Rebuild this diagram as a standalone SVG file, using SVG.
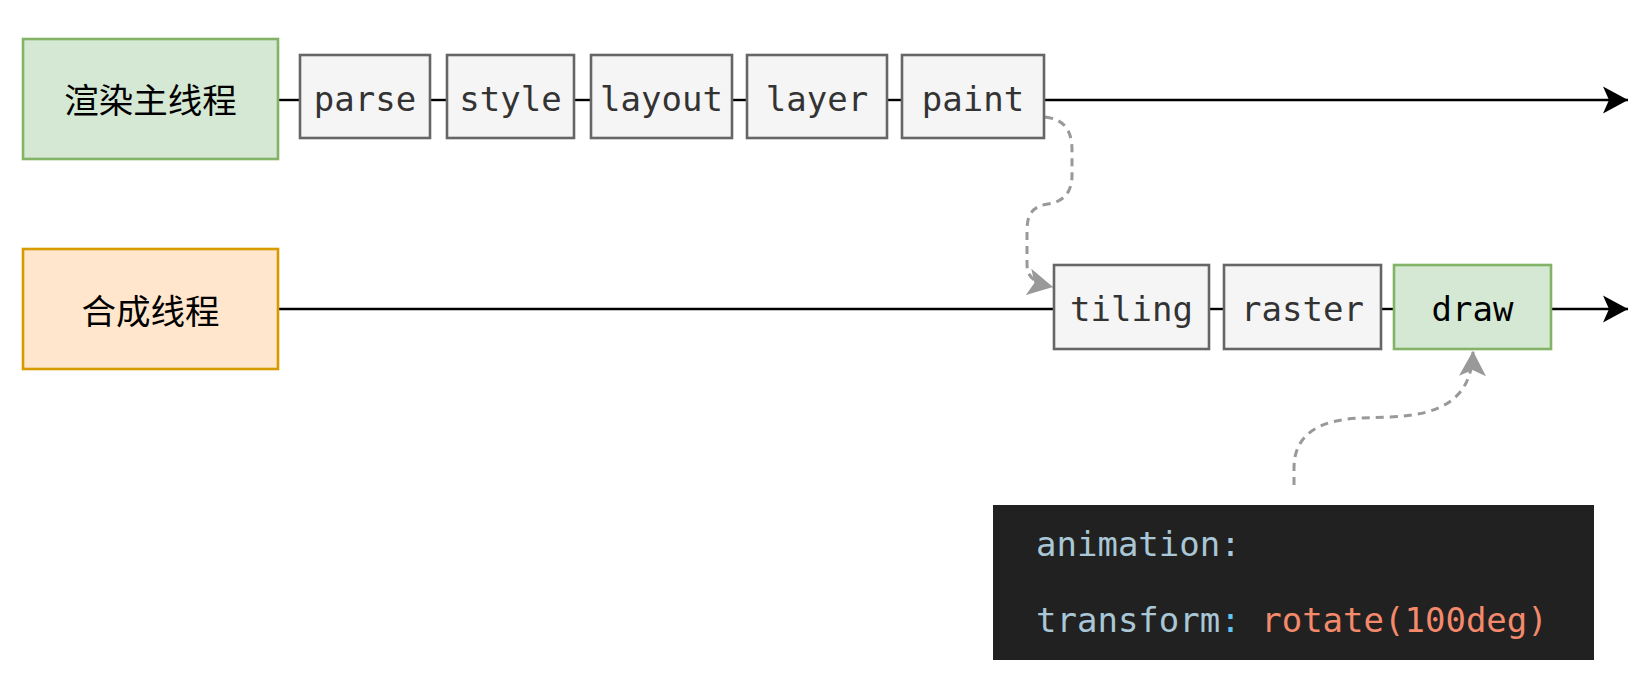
<svg xmlns="http://www.w3.org/2000/svg" width="1650" height="692" viewBox="0 0 1650 692">
<defs>
<style>
.box{fill:#f5f5f5;stroke:#666666;stroke-width:2.6}
.green{fill:#d5e8d4;stroke:#82b366;stroke-width:2.6}
.orange{fill:#ffe6cc;stroke:#d79b00;stroke-width:2.6}
.mono{font-family:"DejaVu Sans Mono","Liberation Mono",monospace;font-size:34px;text-anchor:middle;fill:#333333}
.cjk{font-family:"Noto Sans CJK SC","Noto Sans",sans-serif;font-size:34.5px;text-anchor:middle;fill:#000000}
.line{fill:none;stroke:#000000;stroke-width:2.4}
.dash{fill:none;stroke:#999999;stroke-width:3;stroke-dasharray:8 6}
.code{font-family:"DejaVu Sans Mono","Liberation Mono",monospace;font-size:34px;fill:#a9c7d6}
</style>
<marker id="arrB" viewBox="0 0 25 28" refX="25" refY="14" markerWidth="25" markerHeight="28" markerUnits="userSpaceOnUse" orient="auto">
<path d="M0,0.5 L25,14 L0,27.5 L6,14 Z" fill="#000000"/>
</marker>
<marker id="arrG" viewBox="0 0 25 28" refX="25" refY="14" markerWidth="25" markerHeight="28" markerUnits="userSpaceOnUse" orient="auto">
<path d="M0,0.5 L25,14 L0,27.5 L6,14 Z" fill="#999999"/>
</marker>
</defs>
<rect width="1650" height="692" fill="#ffffff"/>
<g id="connectors">
<line class="line" x1="278" y1="100" x2="300" y2="100"/>
<line class="line" x1="430" y1="100" x2="447" y2="100"/>
<line class="line" x1="574" y1="100" x2="591" y2="100"/>
<line class="line" x1="732" y1="100" x2="747" y2="100"/>
<line class="line" x1="887" y1="100" x2="902" y2="100"/>
<line class="line" x1="1044" y1="100" x2="1628" y2="100" marker-end="url(#arrB)"/>
<line class="line" x1="278" y1="309" x2="1054" y2="309"/>
<line class="line" x1="1209" y1="309" x2="1224" y2="309"/>
<line class="line" x1="1381" y1="309" x2="1394" y2="309"/>
<line class="line" x1="1551" y1="309" x2="1628" y2="309" marker-end="url(#arrB)"/>
<path class="dash" d="M1045,117 C1062,119 1072,128 1072,150 L1072,175 C1072,195 1061,202 1048,204 C1034,206 1027,213 1027,230 L1027,264 C1027,277 1034,283 1053,287" marker-end="url(#arrG)"/>
<path class="dash" d="M1294,485 L1294,468 C1294,435 1318,420 1360,418 L1390,417 C1440,415 1472,400 1473,351" marker-end="url(#arrG)"/>
</g>
<g id="node-main">
<rect class="green" x="23" y="39" width="255" height="120"/>
<text class="cjk" x="150.5" y="113">渲染主线程</text>
</g>
<g id="node-parse">
<rect class="box" x="300" y="55" width="130" height="83"/>
<text class="mono" x="365" y="111">parse</text>
</g>
<g id="node-style">
<rect class="box" x="447" y="55" width="127" height="83"/>
<text class="mono" x="510.5" y="111">style</text>
</g>
<g id="node-layout">
<rect class="box" x="591" y="55" width="141" height="83"/>
<text class="mono" x="661.5" y="111">layout</text>
</g>
<g id="node-layer">
<rect class="box" x="747" y="55" width="140" height="83"/>
<text class="mono" x="817" y="111">layer</text>
</g>
<g id="node-paint">
<rect class="box" x="902" y="55" width="142" height="83"/>
<text class="mono" x="973" y="111">paint</text>
</g>
<g id="node-compositor">
<rect class="orange" x="23" y="249" width="255" height="120"/>
<text class="cjk" x="150.5" y="324">合成线程</text>
</g>
<g id="node-tiling">
<rect class="box" x="1054" y="265" width="155" height="84"/>
<text class="mono" x="1131.5" y="321">tiling</text>
</g>
<g id="node-raster">
<rect class="box" x="1224" y="265" width="157" height="84"/>
<text class="mono" x="1302.5" y="321">raster</text>
</g>
<g id="node-draw">
<rect class="green" x="1394" y="265" width="157" height="84"/>
<text class="mono" x="1472.5" y="321" style="fill:#000000">draw</text>
</g>
<g id="node-code">
<rect x="993" y="505" width="601" height="155" fill="#212121"/>
<text class="code" x="1036" y="556">animation:</text>
<text class="code" x="1036" y="632">transform<tspan fill="#5fc4f0">:</tspan> <tspan fill="#f4896b">rotate(100deg)</tspan></text>
</g>
</svg>
